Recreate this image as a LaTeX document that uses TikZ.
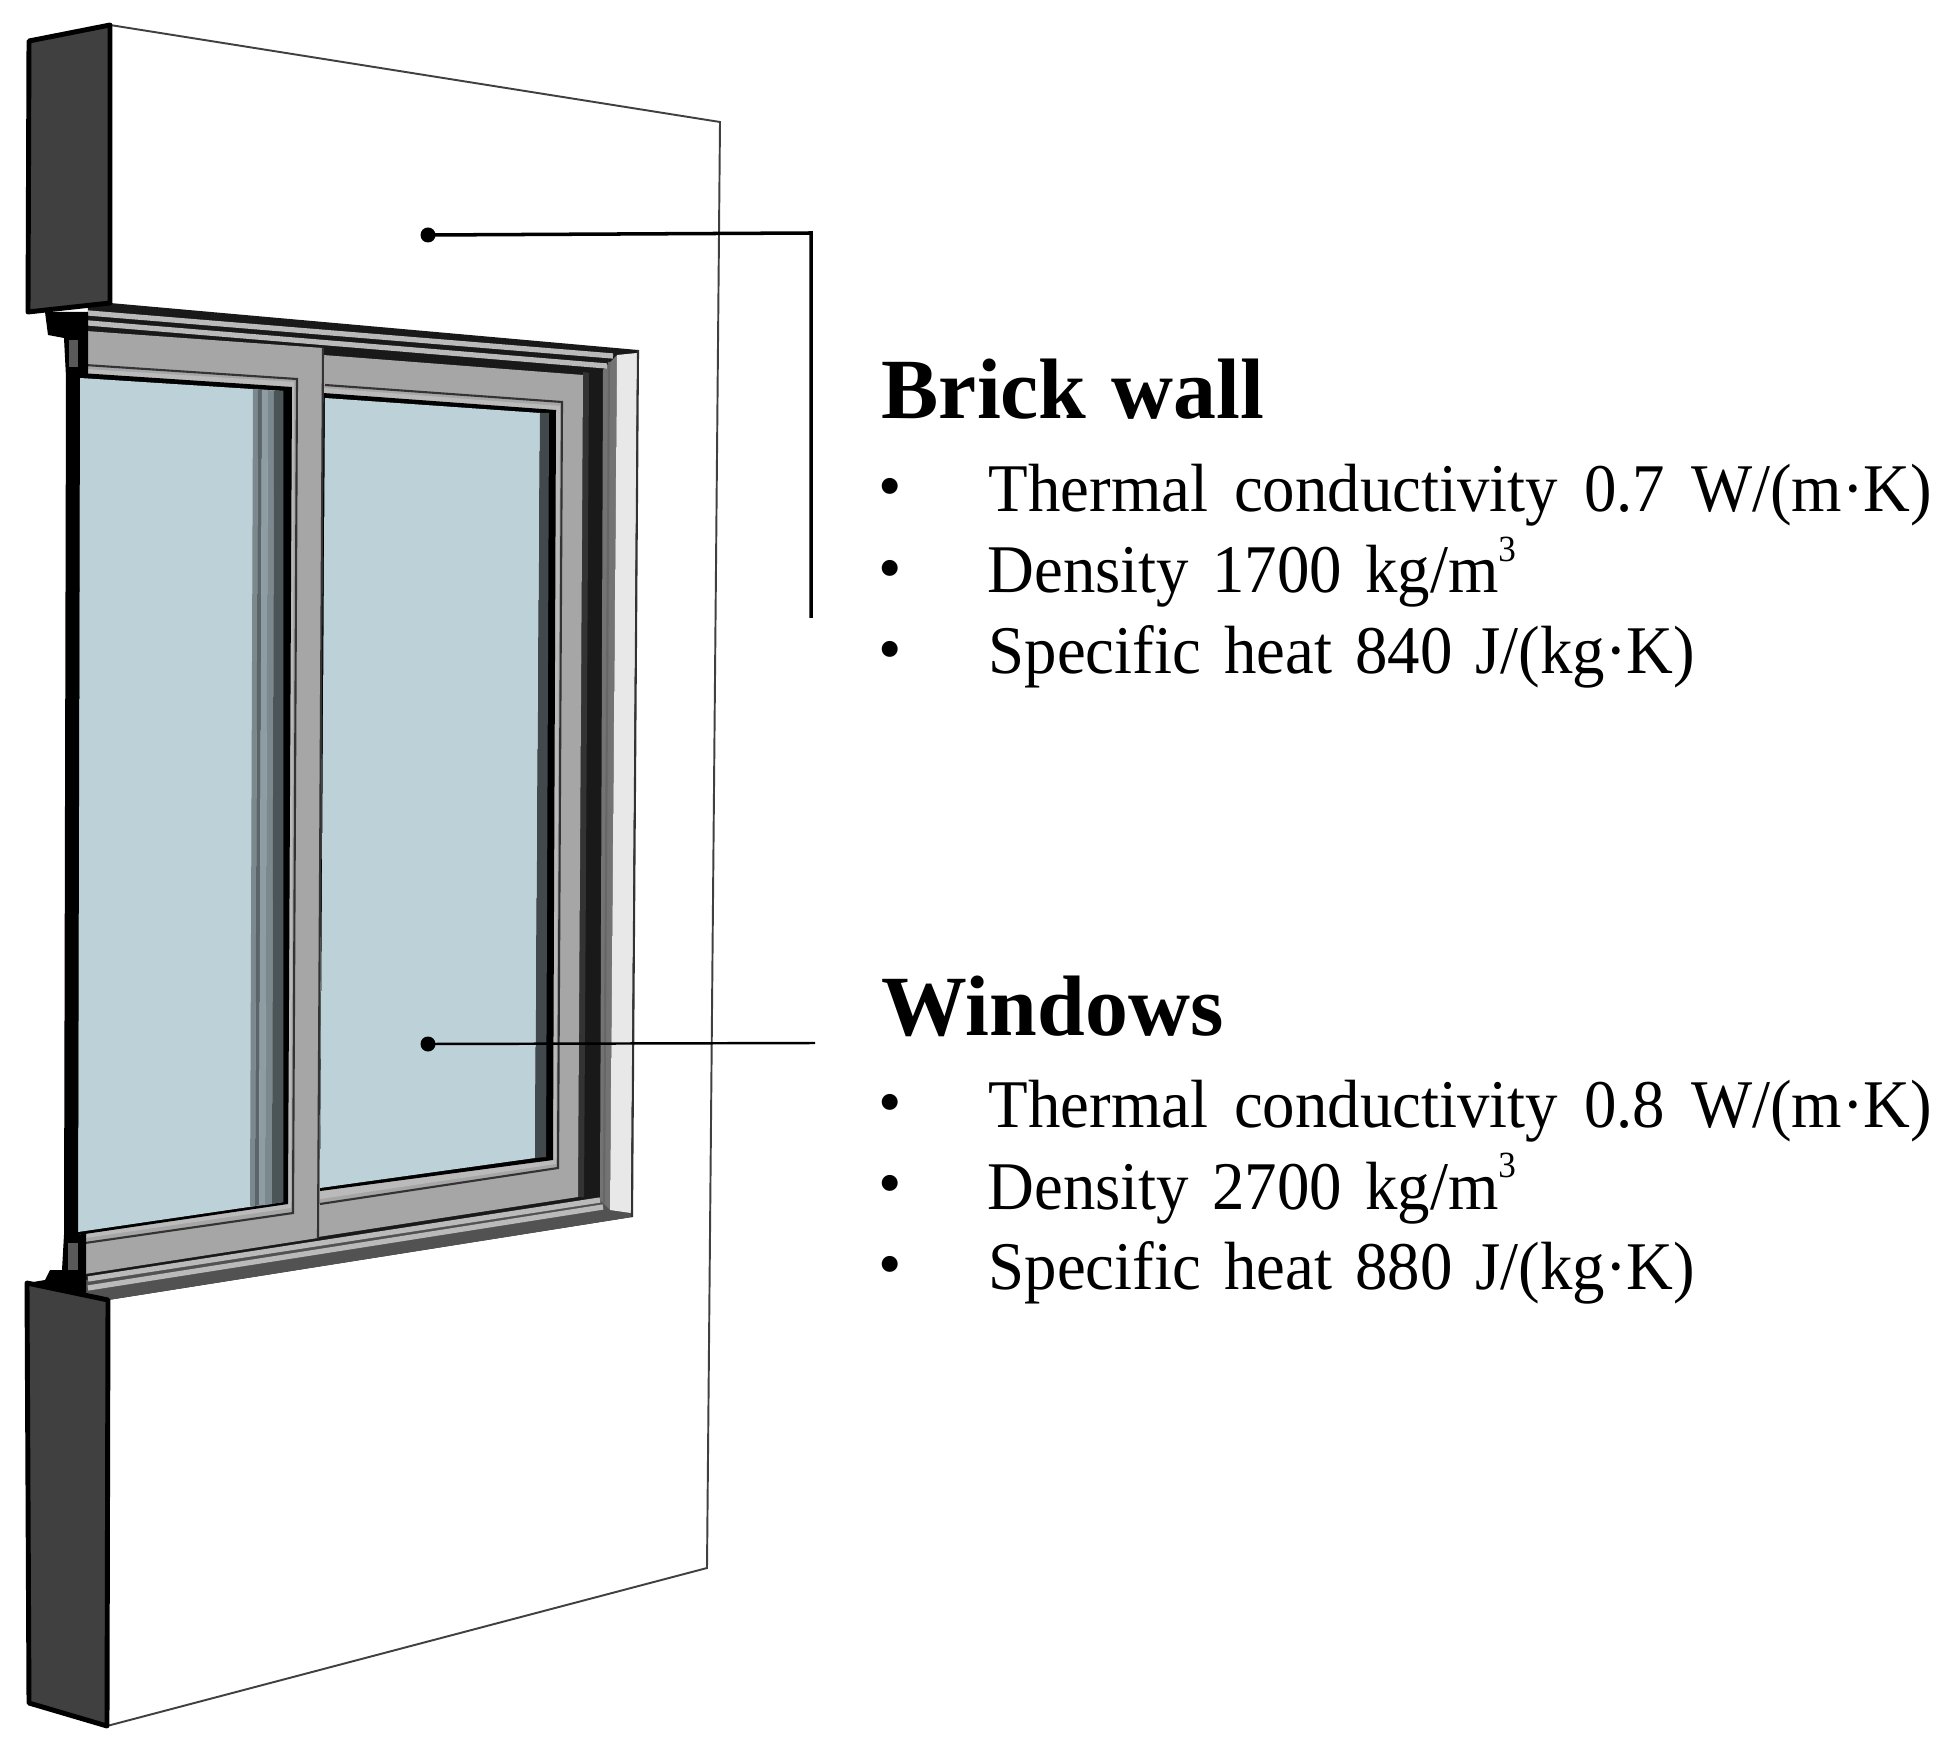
\documentclass[tikz,border=0pt]{standalone}
\usepackage{fontspec}
\setmainfont{Liberation Serif}
\newfontfamily\bodyfont[FakeStretch=0.95]{Liberation Serif}
\usepackage{xcolor}
\usepackage{tikz}

\definecolor{blockgray}{HTML}{404040}
\definecolor{sashgray}{HTML}{A6A6A6}
\definecolor{stripgray}{HTML}{BABABA}
\definecolor{glassblue}{HTML}{BDD1D9}
\definecolor{revealgray}{HTML}{E8E8E8}

\newcommand{\cubed}{\raisebox{0.46em}{\fontsize{10.5}{10.5}\selectfont 3}}

\tikzset{
    wallline/.style={line width=0.55pt, color=black!75},
    blockface/.style={fill=blockgray, draw=black, line width=1.4pt, line join=round},
    darkline/.style={line width=0.6pt, color=black!80},
    stripline/.style={line width=1.5pt, color=stripgray},
    leaderdot/.style={circle, fill=black, inner sep=0pt, minimum size=1.5mm},
    heading/.style={anchor=base west, inner sep=0pt, font=\fontsize{24.4}{28}\selectfont\bfseries},
    bodyline/.style={anchor=base west, inner sep=0pt, font=\bodyfont\fontsize{19.4}{23}\selectfont},
    bulletmark/.style={inner sep=0pt, font=\fontsize{19}{22}\selectfont}
}

\begin{document}
\begin{tikzpicture}[x=0.01cm, y=-0.01cm]
    \useasboundingbox (0,0) rectangle (1954,1761);

    % wall
    \draw[wallline, fill=white] (110,25) -- (720,122) -- (707,1568) -- (107,1726) -- cycle;

    % frame body
    \fill[black!90] (88,300) -- (110,303) -- (638,350) -- (632,1217) -- (108,1300) -- (85,1295) -- cycle;
    \fill[black!68] (85,1280) -- (632,1195) -- (632,1217) -- (108,1300) -- (85,1295) -- cycle;
    \fill[black!55] (603,370) -- (617,355) -- (610,1210) -- (600,1200) -- cycle;
    \fill[black!80] (583,372) -- (589,373) -- (584,1197) -- (578,1197) -- cycle;
    \fill[revealgray] (617,355) -- (637,353) -- (631,1213) -- (610,1210) -- cycle;
    \draw[darkline] (638,350) -- (632,1217);
    \draw[darkline, black!60] (609,362) -- (604,1204);

    % rail strips
    \draw[stripline] (88,313) -- (613,356);
    \draw[stripline] (88,323) -- (607,366);
    \draw[stripline] (88,1279) -- (600,1200);
    \draw[stripline] (88,1288) -- (603,1207);

    % right sash
    \fill[sashgray] (323,355) -- (583,375) -- (578,1197) -- (318,1237) -- cycle;
    \draw[darkline] (325,385) -- (562,402) -- (558,1168) -- (320,1204);
    \fill[stripgray] (323,388) -- (560,406) -- (556,1164) -- (320,1199) -- cycle;
    \fill[black] (323,393) -- (556,410) -- (553,1160) -- (320,1191) -- cycle;
    \fill[glassblue] (325,398) -- (540,413) -- (535,1158) -- (320,1188) -- cycle;
    \fill[black!65!glassblue] (540,413) -- (549,413) -- (546,1157) -- (535,1158) -- cycle;

    % left sash
    \fill[sashgray] (86,331) -- (323,348) -- (318,1238) -- (85,1274) -- cycle;
    \draw[darkline] (323,348) -- (318,1238);
    \draw[darkline] (85,365) -- (297,379) -- (293,1213) -- (85,1243);
    \fill[stripgray] (85,369) -- (294,382) -- (291,1208) -- (85,1238) -- cycle;
    \fill[black] (80,373) -- (292,387) -- (288,1204) -- (78,1235) -- cycle;
    \fill[glassblue] (80,378) -- (283,391) -- (283,1202) -- (78,1232) -- cycle;

    % blind in the left pane
    \fill[black!35!glassblue] (253,389) -- (258,389) -- (255,1206) -- (250,1206) -- cycle;
    \fill[black!52!glassblue] (258,389) -- (262,390) -- (259,1205) -- (255,1206) -- cycle;
    \fill[black!25!glassblue] (262,390) -- (268,390) -- (265,1205) -- (259,1205) -- cycle;
    \fill[black!35!glassblue] (268,390) -- (274,391) -- (272,1204) -- (265,1205) -- cycle;
    \fill[black!60!glassblue] (274,391) -- (283,391) -- (283,1202) -- (272,1204) -- cycle;

    % left post
    \fill[black] (45,312) -- (48,335) -- (64,338) -- (66,377) -- (80,377) -- (78,1235) -- (86,1233) -- (86,1295) -- (27,1283) -- (45,1280) -- (50,1270) -- (62,1270) -- (64,1235) -- (66,377) -- (88,377) -- (88,312) -- cycle;
    \fill[black!65] (69,340) rectangle (78,367);
    \fill[black!65] (68,1243) rectangle (78,1270);

    % wall section
    \draw[blockface] (29,41) -- (110,25) -- (110,303) -- (28,312) -- cycle;
    \draw[blockface] (27,1283) -- (108,1300) -- (107,1726) -- (29,1703) -- cycle;

    % leaders
    \node[leaderdot] (walldot) at (428,235) {};
    \coordinate (wallbend) at (811,233);
    \coordinate (wallend) at (811,618);
    \draw[line width=1pt] (walldot.center) -- (wallbend) -- (wallend);
    \node[leaderdot] (glassdot) at (428,1044) {};
    \coordinate (glassend) at (815,1043);
    \draw[line width=0.7pt] (glassdot.center) -- (glassend);

    % brick wall text
    \node[heading] (brickhead) at (881,419) {\makebox[3.82cm][s]{Brick wall}};
    \node[bulletmark] (brickbulleta) at (890,493) {•};
    \node[bodyline] (brickcond) at (988,512) {\makebox[9.43cm][s]{Thermal conductivity 0.7 W/(m·K)}};
    \node[bulletmark] (brickbulletb) at (890,575) {•};
    \node[bodyline] (brickdens) at (987,593) {\makebox[5.28cm][s]{Density 1700 kg/m\cubed}};
    \node[bulletmark] (brickbulletc) at (890,656) {•};
    \node[bodyline] (brickheat) at (988,673) {\makebox[7.06cm][s]{Specific heat 840 J/(kg·K)}};

    % window text
    \node[heading] (winhead) at (881,1035) {\makebox[3.43cm][s]{Windows}};
    \node[bulletmark] (winbulleta) at (890,1109) {•};
    \node[bodyline] (wincond) at (988,1127) {\makebox[9.43cm][s]{Thermal conductivity 0.8 W/(m·K)}};
    \node[bulletmark] (winbulletb) at (890,1190) {•};
    \node[bodyline] (windens) at (987,1209) {\makebox[5.28cm][s]{Density 2700 kg/m\cubed}};
    \node[bulletmark] (winbulletc) at (890,1271) {•};
    \node[bodyline] (winheat) at (988,1289) {\makebox[7.06cm][s]{Specific heat 880 J/(kg·K)}};
\end{tikzpicture}
\end{document}
